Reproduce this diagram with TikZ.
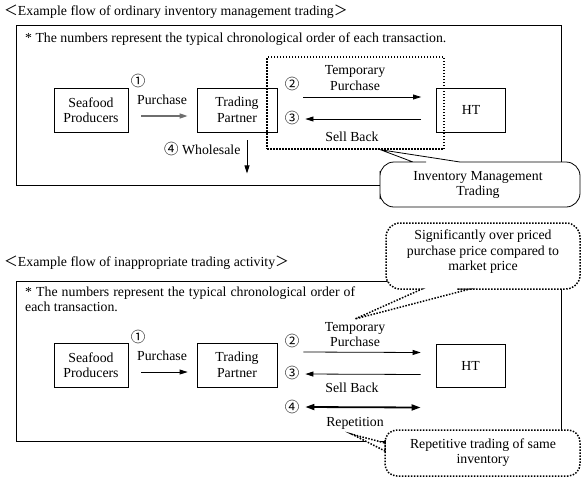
\documentclass[tikz,border=0pt]{standalone}
\usepackage{fontspec}
\setmainfont{Liberation Serif}
\newfontfamily\cjk{Noto Sans CJK JP}
\usetikzlibrary{arrows.meta}
\definecolor{arrowgray}{RGB}{110,110,110}

\begin{document}
\begin{tikzpicture}[x=1pt, y=-1pt,
  every node/.style={font=\fontsize{13.8}{15.5}\selectfont, inner sep=0pt},
  party/.style={draw, line width=0.8pt, minimum height=44pt, align=center},
  lbl/.style={align=center},
  num/.style={font=\fontsize{14.5}{15}\selectfont\cjk},
  arr/.style={line width=0.8pt, -{Triangle[length=8pt,width=5pt]}},
  duoarr/.style={line width=1.8pt, {Triangle[length=9pt,width=6pt]}-{Triangle[length=9pt,width=6pt]}},
  dotline/.style={line width=1.5pt, dash pattern=on 1.5pt off 1.5pt},
  frame/.style={line width=0.8pt}]

  \useasboundingbox (0,0) rectangle (584,480);

  %% ordinary inventory management trading
  \node[anchor=west] (title1) at (4,12) {{\cjk ＜}Example flow of ordinary inventory management trading{\cjk ＞}};
  \draw[frame] (16,25) rectangle (561,185);
  \node[anchor=west] (note1) at (25,39) {* The numbers represent the typical chronological order of each transaction.};

  \node[party, minimum width=74pt] (sp1) at (91,110) {Seafood\\Producers};
  \node[party, minimum width=80pt] (tp1) at (237,110) {Trading\\Partner};
  \node[party, minimum width=69pt] (ht1) at (471,110) {HT};

  \node[num] (n11) at (138,81) {①};
  \node (pu1) at (162,100) {Purchase};
  \draw[arr, color=arrowgray, line width=1.3pt] ([xshift=13pt,yshift=-6pt]sp1.east) -- ([xshift=-9pt,yshift=-6pt]tp1.west); %% SP->TP

  \node[num] (n12) at (292,84) {②};
  \node[num] (n13) at (292,118) {③};
  \node[lbl] (tmp1) at (355,78) {Temporary\\Purchase};
  \node (sb1) at (352,137) {Sell Back};
  \draw[arr] ([xshift=26pt,yshift=13pt]tp1.east) -- ([xshift=-15pt,yshift=13pt]ht1.west); %% TP->HT
  \draw[arr] ([xshift=-15pt,yshift=-9pt]ht1.west) -- ([xshift=28pt,yshift=-9pt]tp1.east); %% HT->TP

  \node[anchor=west] (ws1) at (164,149) {{\cjk\fontsize{14.5}{15}\selectfont ④} Wholesale};
  \draw[arr] ([xshift=10pt,yshift=-8pt]tp1.south) -- ([xshift=10pt,yshift=-41pt]tp1.south);

  \node[draw, dotline, minimum width=177pt, minimum height=92pt] (imt) at (355.5,103) {};

  \draw[frame, fill=white] (380,185) [rounded corners=14pt] -- (380,162) -- (412,162) [sharp corners] -- (413,162)
    -- ([xshift=25pt]imt.south) -- (460,162) -- (461,162) [rounded corners=14pt] -- (580,162) -- (580,207) -- (380,207) -- cycle;
  \node[lbl] (imtl) at (478,185) {Inventory Management\\Trading};

  %% inappropriate trading activity
  \node[anchor=west] (title2) at (4,263) {{\cjk ＜}Example flow of inappropriate trading activity{\cjk ＞}};
  \draw[frame] (16,281) rectangle (561,441);
  \node[anchor=west, align=left] (note2) at (25,299) {\makebox[330pt][s]{* The numbers represent the typical chronological order of}\\each transaction.};

  \node[party, minimum width=74pt] (sp2) at (91,365) {Seafood\\Producers};
  \node[party, minimum width=80pt] (tp2) at (237,365) {Trading\\Partner};
  \node[party, minimum width=69pt, minimum height=43pt] (ht2) at (470.5,365.5) {HT};

  \node[num] (n21) at (138,337) {①};
  \node (pu2) at (162,356) {Purchase};
  \draw[arr] ([xshift=13pt,yshift=-7pt]sp2.east) -- ([xshift=-9pt,yshift=-7pt]tp2.west); %% SP->TP

  \node[num] (n22) at (292,341) {②};
  \node[num] (n23) at (292,373) {③};
  \node[num] (n24) at (292,407) {④};
  \node[lbl] (tmp2) at (355,334.5) {Temporary\\Purchase};
  \node (sb2) at (352,388) {Sell Back};
  \node (rep2) at (355,423) {Repetition};
  \draw[arr] ([xshift=26pt,yshift=13pt]tp2.east) -- ([xshift=-15pt,yshift=13pt]ht2.west); %% TP->HT
  \draw[arr] ([xshift=-15pt,yshift=-9pt]ht2.west) -- ([xshift=28pt,yshift=-9pt]tp2.east); %% HT->TP
  \draw[duoarr] ([xshift=28pt,yshift=-42pt]tp2.east) -- ([xshift=-15pt,yshift=-42pt]ht2.west); %% repeat

  \draw[frame, dotline, fill=white] (386,256) [rounded corners=14pt] -- (386,223) -- (580,223) -- (580,289) -- (471,289) [sharp corners]
    -- (470,289) -- ([yshift=3pt]tmp2.north) -- (422,289) -- (421,289) [rounded corners=14pt] -- (386,289) -- cycle;
  \node[lbl] (overl) at (483,252) {Significantly over priced\\purchase price compared to\\market price};

  \draw[frame, dotline, fill=white] (480,430) [rounded corners=12pt] -- (580,430) -- (580,476) -- (385,476) -- (385,452) [sharp corners]
    -- (385,451) -- ([xshift=-3pt,yshift=-5pt]rep2.south) -- (385,443) -- (385,442) [rounded corners=12pt] -- (385,430) -- cycle;
  \node[lbl] (repl) at (483,452.5) {Repetitive trading of same\\inventory};
\end{tikzpicture}
\end{document}
